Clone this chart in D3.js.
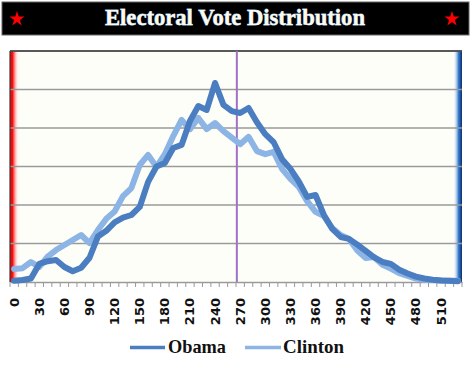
<!DOCTYPE html>
<html><head><meta charset="utf-8">
<script src="https://cdn.jsdelivr.net/npm/d3@7"></script>
<style>body{margin:0;background:#fff}svg{display:block}</style>
</head><body><svg id="c" width="470" height="383"></svg>
<script>
const categories = [0,10,20,30,40,50,60,70,80,90,100,110,120,130,140,150,160,170,180,190,200,210,220,230,240,250,260,270,280,290,300,310,320,330,340,350,360,370,380,390,400,410,420,430,440,450,460,470,480,490,500,510,520,530];
const obama = [0.03,0.05,0.09,0.47,0.54,0.57,0.39,0.28,0.37,0.63,1.18,1.33,1.55,1.67,1.74,1.95,2.6,3.0,3.09,3.48,3.56,4.18,4.57,4.47,5.17,4.6,4.44,4.39,4.52,4.15,3.84,3.63,3.19,2.94,2.61,2.21,2.26,1.74,1.38,1.17,1.12,0.97,0.81,0.64,0.52,0.47,0.32,0.22,0.14,0.09,0.06,0.04,0.03,0.02];
const clinton = [0.34,0.36,0.52,0.39,0.66,0.83,0.96,1.09,1.22,1.01,1.35,1.64,1.83,2.23,2.44,3.04,3.30,2.99,3.32,3.79,4.21,3.97,4.26,3.97,4.13,3.92,3.75,3.58,3.77,3.40,3.32,3.38,2.94,2.68,2.47,2.10,1.82,1.71,1.40,1.22,1.12,0.82,0.62,0.65,0.45,0.35,0.23,0.16,0.09,0.06,0.05,0.04,0.03,0.03];
const tickLabels = [0,30,60,90,120,150,180,210,240,270,300,330,360,390,420,450,480,510];
const yGrid = [1,2,3,4,5,6];
const yMax = 6;
const majority = 270;
const totalEV = 538;
const title = "Electoral Vote Distribution";
const seriesNames = ["Obama","Clinton"];

const svg = d3.select("#c");
const L = 10, R = 462, T = 51, B = 282;
const x = d3.scaleBand().domain(categories).range([L, R]);
const xc = c => x(c) + x.bandwidth()/2;
const xEV = d3.scaleLinear().domain([0, totalEV]).range([L, R]);
const y = d3.scaleLinear().domain([0, yMax]).range([B, T]);

const defs = svg.append("defs");
const gl = defs.append("linearGradient").attr("id","gl").attr("x1","0").attr("x2","1").attr("y1","0").attr("y2","0");
gl.append("stop").attr("offset","0").attr("stop-color","#e00000");
gl.append("stop").attr("offset","0.3").attr("stop-color","#ff1010");
gl.append("stop").attr("offset","1").attr("stop-color","#ffffff").attr("stop-opacity",0);
const gr = defs.append("linearGradient").attr("id","gr").attr("x1","0").attr("x2","1").attr("y1","0").attr("y2","0");
gr.append("stop").attr("offset","0").attr("stop-color","#ffffff").attr("stop-opacity",0);
gr.append("stop").attr("offset","0.6").attr("stop-color","#3a7fd0");
gr.append("stop").attr("offset","1").attr("stop-color","#0a2f70");

// title bar
svg.append("rect").attr("x",2).attr("y",2).attr("width",467).attr("height",33).attr("fill","#000").attr("stroke","#666").attr("stroke-width",1);
svg.append("text").attr("x",235).attr("y",25).attr("text-anchor","middle")
  .attr("font-family","Liberation Serif, serif").attr("font-weight","bold").attr("font-size",23)
  .attr("textLength",260).attr("lengthAdjust","spacingAndGlyphs")
  .attr("fill","#fffbea").attr("stroke","#9cc0ee").attr("stroke-width",0.8).attr("paint-order","stroke")
  .text(title);
const star = d3.symbol().type(d3.symbolStar).size(70);
[17, 452].forEach(cx => svg.append("path").attr("d", star()).attr("transform",`translate(${cx},19)`).attr("fill","#ff0000"));

// plot background
svg.append("rect").attr("x",L).attr("y",T).attr("width",R-L).attr("height",B-T).attr("fill","#fefef8");
svg.append("rect").attr("x",L).attr("y",T).attr("width",9).attr("height",B-T).attr("fill","url(#gl)");
svg.append("rect").attr("x",R-9).attr("y",T).attr("width",9).attr("height",B-T).attr("fill","url(#gr)");

// gridlines
svg.append("g").selectAll("line").data(yGrid).join("line")
  .attr("x1",L).attr("x2",R).attr("y1",d=>y(d)).attr("y2",d=>y(d))
  .attr("stroke","#9a9a9a").attr("stroke-width",1.3);

// frame
svg.append("line").attr("x1",L).attr("x2",R).attr("y1",T).attr("y2",T).attr("stroke","#3a3a3a").attr("stroke-width",1.5);
svg.append("line").attr("x1",L).attr("x2",L).attr("y1",T).attr("y2",B).attr("stroke","#3a3a3a").attr("stroke-width",1.2);

// majority line
svg.append("line").attr("x1",xEV(majority)).attr("x2",xEV(majority)).attr("y1",T).attr("y2",B)
  .attr("stroke","#a070c8").attr("stroke-width",2);

// x axis
const ax = svg.append("g").attr("transform",`translate(0,${B})`)
  .call(d3.axisBottom(x).tickValues([]).tickSizeOuter(0));
ax.select(".domain").attr("stroke","#9a9a9a").attr("stroke-width",1.3);
const bounds = categories.map(c => x(c)).concat([R]);
ax.selectAll("line.tk").data(bounds).join("line").attr("class","tk")
  .attr("x1",d=>d).attr("x2",d=>d).attr("y1",0).attr("y2",5).attr("stroke","#9a9a9a").attr("stroke-width",1);
svg.append("g").selectAll("text").data(tickLabels).join("text")
  .attr("transform",d=>`translate(${xc(d)+4.5},298) rotate(-90)`)
  .attr("text-anchor","end")
  .attr("font-family","DejaVu Sans, sans-serif").attr("font-weight","bold").attr("font-size",13)
  .attr("fill","#111").text(d=>d);

// lines
const line = d3.line().x((d,i)=>xc(categories[i])).y(d=>y(d));
svg.append("path").datum(clinton).attr("d",line).attr("fill","none").attr("stroke","#8cb5e6")
  .attr("stroke-width",6).attr("stroke-linejoin","round").attr("stroke-linecap","round");
svg.append("path").datum(obama).attr("d",line).attr("fill","none").attr("stroke","#4a7ec0")
  .attr("stroke-width",6).attr("stroke-linejoin","round").attr("stroke-linecap","round");

// legend
const leg = [{n:seriesNames[0], c:"#4a7ec0", x1:130, x2:165, tx:168, tl:58},
             {n:seriesNames[1], c:"#8cb5e6", x1:245, x2:281, tx:283, tl:61}];
leg.forEach(d => {
  svg.append("line").attr("x1",d.x1).attr("x2",d.x2).attr("y1",347.5).attr("y2",347.5).attr("stroke",d.c).attr("stroke-width",3.5);
  svg.append("text").attr("x",d.tx).attr("y",353).attr("font-family","Liberation Serif, serif").attr("font-weight","bold")
    .attr("font-size",19).attr("textLength",d.tl).attr("lengthAdjust","spacingAndGlyphs").attr("fill","#111").text(d.n);
});
</script></body></html>
